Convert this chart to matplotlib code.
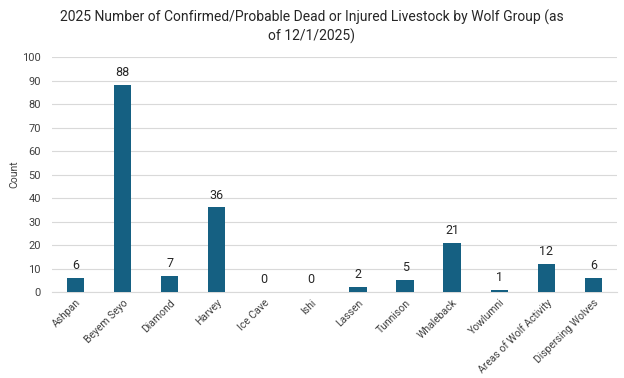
import matplotlib
matplotlib.use("Agg")
import matplotlib.pyplot as plt

categories = ["Ashpan", "Beyem Seyo", "Diamond", "Harvey", "Ice Cave", "Ishi", "Lassen",
              "Tunnison", "Whaleback", "Yowlumni", "Areas of Wolf Activity", "Dispersing Wolves"]
values = [6, 88, 7, 36, 0, 0, 2, 5, 21, 1, 12, 6]
yticks = list(range(0, 101, 10))

plt.rcParams['font.family'] = ['Roboto', 'DejaVu Sans']

fig = plt.figure(figsize=(6.24, 3.78), dpi=100)
ax = fig.add_axes([0.0833, 0.2275, 0.9054, 0.6217])
x = range(len(categories))
ax.bar(x, values, width=0.37, color="#156082", zorder=3)
for xi, v in zip(x, values):
    ax.text(xi, v + 2.5, str(v), ha="center", va="bottom", fontsize=9, color="#262626")

ax.set_xlim(-0.5, len(categories) - 0.5)
ax.set_ylim(0, 100)
ax.set_yticks(yticks)
ax.set_yticklabels([str(t) for t in yticks], fontsize=8, color="#404040")
ax.set_xticks(list(x))
ax.set_xticklabels(categories, rotation=45, ha="right", rotation_mode="anchor", fontsize=7.5, color="#404040")
ax.tick_params(axis="y", length=0, pad=8)
ax.tick_params(axis="x", length=0, pad=4)
ax.grid(axis="y", color="#d9d9d9", linewidth=0.8, zorder=0)
for s in ["top", "right", "left"]:
    ax.spines[s].set_visible(False)
ax.spines["bottom"].set_color("#d9d9d9")
ax.set_ylabel("Count", fontsize=7.5, color="#404040")
ax.yaxis.set_label_coords(-0.057, 0.5)
fig.text(0.5, 0.955, "2025 Number of Confirmed/Probable Dead or Injured Livestock by Wolf Group (as",
         ha="center", va="center", fontsize=10, color="#262626")
fig.text(0.5, 0.905, "of 12/1/2025)", ha="center", va="center", fontsize=10, color="#262626")

fig.savefig("out.png", dpi=100)
